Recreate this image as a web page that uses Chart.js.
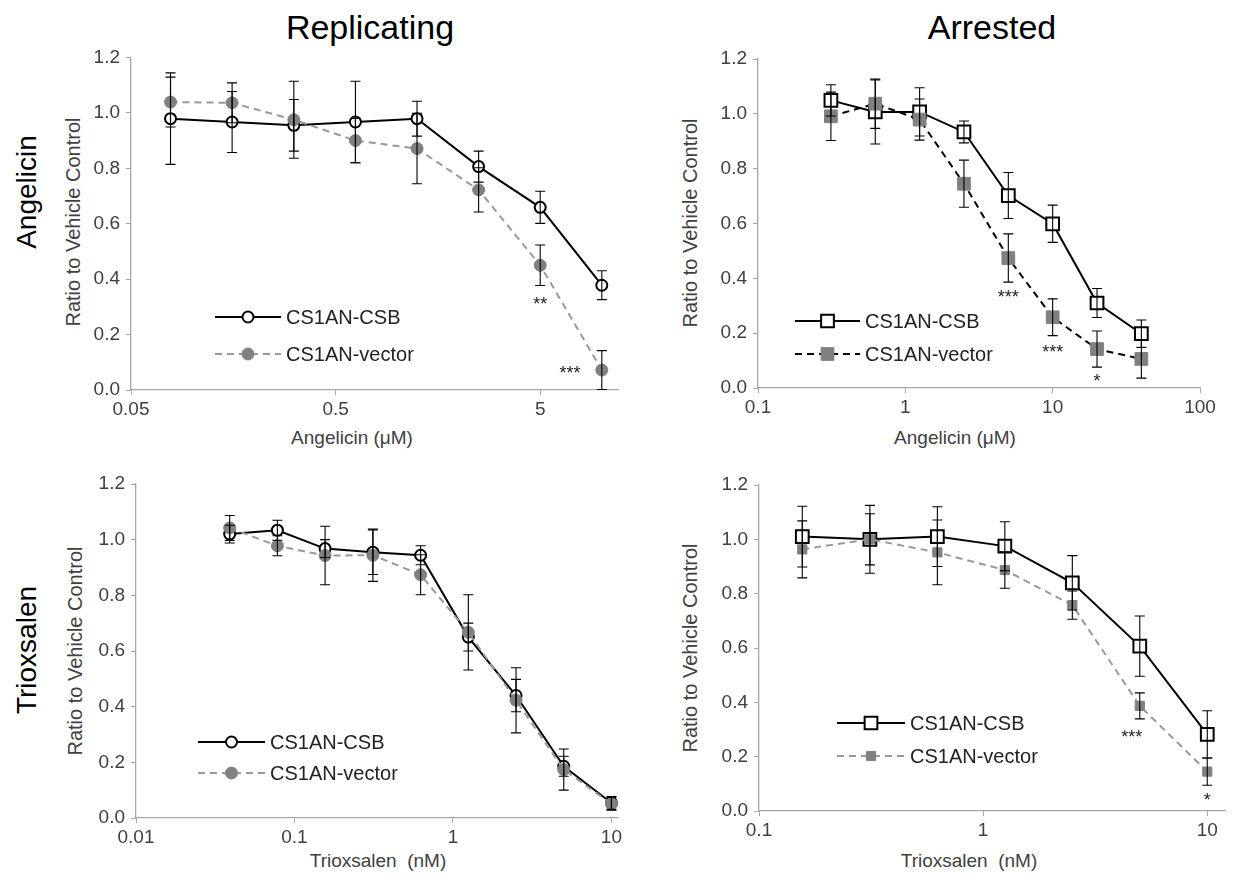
<!DOCTYPE html>
<html>
<head>
<meta charset="utf-8">
<script src="https://cdn.jsdelivr.net/npm/chart.js@4.4.1/dist/chart.umd.min.js"></script>
<style>
html,body{margin:0;padding:0;background:#fff;}
body{width:1250px;height:884px;position:relative;overflow:hidden;font-family:"Liberation Sans",Arial,sans-serif;}
.txt{position:absolute;white-space:nowrap;transform:translate(-50%,-50%);line-height:1;}
.rot{transform:translate(-50%,-50%) rotate(-90deg);}
.box{position:absolute;}
canvas{display:block;}
</style>
</head>
<body>
<div class="txt" style="left:370px;top:27px;font-size:34px;color:#000">Replicating</div>
<div class="txt" style="left:992px;top:27px;font-size:34px;color:#000">Arrested</div>
<div class="txt rot" style="left:27px;top:192px;font-size:28px;color:#000">Angelicin</div>
<div class="txt rot" style="left:27px;top:650px;font-size:28px;color:#000">Trioxsalen</div>

<div class="txt rot" style="left:73px;top:222px;font-size:20px;color:#404040">Ratio to Vehicle Control</div>
<div class="txt rot" style="left:690px;top:223px;font-size:20px;color:#404040">Ratio to Vehicle Control</div>
<div class="txt rot" style="left:75px;top:651px;font-size:20px;color:#404040">Ratio to Vehicle Control</div>
<div class="txt rot" style="left:690px;top:648px;font-size:20px;color:#404040">Ratio to Vehicle Control</div>

<div class="txt" style="left:352px;top:437px;font-size:19px;color:#404040">Angelicin (μM)</div>
<div class="txt" style="left:955px;top:437px;font-size:19px;color:#404040">Angelicin (μM)</div>
<div class="txt" style="left:378px;top:860px;font-size:19px;color:#404040">Trioxsalen&nbsp; (nM)</div>
<div class="txt" style="left:969px;top:860px;font-size:19px;color:#404040">Trioxsalen&nbsp; (nM)</div>

<div class="box" style="left:60px;top:40px"><canvas id="c1" width="570" height="385"></canvas></div>
<div class="box" style="left:670px;top:40px"><canvas id="c2" width="570" height="385"></canvas></div>
<div class="box" style="left:60px;top:465px"><canvas id="c3" width="570" height="385"></canvas></div>
<div class="box" style="left:670px;top:465px"><canvas id="c4" width="570" height="385"></canvas></div>

<script>
// ---------------- DATA ----------------
const seriesNames = ['CS1AN-CSB', 'CS1AN-vector'];
const yTicks = [0, 0.2, 0.4, 0.6, 0.8, 1.0, 1.2];

// Replicating – Angelicin (µM)
const repAngDose   = [0.078, 0.156, 0.3125, 0.625, 1.25, 2.5, 5, 10];
const repAngCSB    = [0.979, 0.967, 0.955, 0.967, 0.979, 0.806, 0.659, 0.378];
const repAngCSBErr = [0.165, 0.110, 0.093, 0.147, 0.063, 0.056, 0.058, 0.052];
const repAngVec    = [1.039, 1.036, 0.975, 0.900, 0.871, 0.722, 0.450, 0.072];
const repAngVecErr = [0.090, 0.072, 0.139, 0.080, 0.127, 0.080, 0.073, 0.070];
const repAngTicks  = [0.05, 0.5, 5];
const repAngTickLabels = ['0.05', '0.5', '5'];
const repAngStarX  = [5, 7.0];
const repAngStarY  = [0.322, 0.072];
const repAngStarText = ['**', '***'];

// Arrested – Angelicin (µM)
const arrAngDose   = [0.3125, 0.625, 1.25, 2.5, 5, 10, 20, 40];
const arrAngCSB    = [1.049, 1.007, 1.007, 0.934, 0.702, 0.599, 0.310, 0.198];
const arrAngCSBErr = [0.057, 0.117, 0.088, 0.040, 0.084, 0.068, 0.053, 0.050];
const arrAngVec    = [0.991, 1.037, 0.979, 0.745, 0.474, 0.258, 0.142, 0.106];
const arrAngVecErr = [0.088, 0.090, 0.075, 0.086, 0.088, 0.067, 0.066, 0.070];
const arrAngTicks  = [0.1, 1, 10, 100];
const arrAngTickLabels = ['0.1', '1', '10', '100'];
const arrAngStarX  = [5, 10, 20];
const arrAngStarY  = [0.344, 0.142, 0.036];
const arrAngStarText = ['***', '***', '*'];

// Replicating – Trioxsalen (nM)
const repTriDose   = [0.039, 0.078, 0.156, 0.3125, 0.625, 1.25, 2.5, 5, 10];
const repTriCSB    = [1.020, 1.034, 0.968, 0.955, 0.944, 0.650, 0.440, 0.186, 0.054];
const repTriCSBErr = [0.032, 0.036, 0.032, 0.080, 0.034, 0.050, 0.058, 0.036, 0.023];
const repTriVec    = [1.042, 0.978, 0.943, 0.944, 0.874, 0.667, 0.423, 0.174, 0.051];
const repTriVecErr = [0.045, 0.036, 0.105, 0.094, 0.072, 0.135, 0.117, 0.074, 0.023];
const repTriTicks  = [0.01, 0.1, 1, 10];
const repTriTickLabels = ['0.01', '0.1', '1', '10'];

// Arrested – Trioxsalen (nM)
const arrTriDose   = [0.156, 0.3125, 0.625, 1.25, 2.5, 5, 10];
const arrTriCSB    = [1.010, 1.000, 1.010, 0.975, 0.840, 0.607, 0.282];
const arrTriCSBErr = [0.112, 0.125, 0.110, 0.090, 0.100, 0.111, 0.087];
const arrTriVec    = [0.963, 1.000, 0.952, 0.887, 0.758, 0.387, 0.145];
const arrTriVecErr = [0.105, 0.094, 0.119, 0.067, 0.052, 0.048, 0.050];
const arrTriTicks  = [0.1, 1, 10];
const arrTriTickLabels = ['0.1', '1', '10'];
const arrTriStarX  = [4.6, 10];
const arrTriStarY  = [0.283, 0.050];
const arrTriStarText = ['***', '*'];

// ---------------- STYLE / RENDER ----------------
const FONT = '"Liberation Sans", Arial, sans-serif';
const AXIS = '#a6a6a6';
const TICKTXT = '#404040';
const GRAY = '#808080';

const decoPlugin = {
  id: 'deco',
  afterDatasetsDraw(chart, args, P) {
    const ctx = chart.ctx, xs = chart.scales.x, ys = chart.scales.y;
    ctx.save();
    // error bars
    ctx.strokeStyle = '#000'; ctx.lineWidth = 1.1; ctx.setLineDash([]);
    chart.data.datasets.forEach(ds => {
      ds.data.forEach((pt, i) => {
        const e = ds.errors[i];
        const px = xs.getPixelForValue(pt.x);
        const t = ys.getPixelForValue(pt.y + e), b = ys.getPixelForValue(Math.max(0, pt.y - e));
        ctx.beginPath();
        ctx.moveTo(px, t); ctx.lineTo(px, b);
        ctx.moveTo(px - 5, t); ctx.lineTo(px + 5, t);
        if (pt.y - e > 0) { ctx.moveTo(px - 5, b); ctx.lineTo(px + 5, b); }
        ctx.stroke();
      });
    });
    // significance stars
    ctx.fillStyle = '#222'; ctx.font = '18px ' + FONT; ctx.textAlign = 'center'; ctx.textBaseline = 'alphabetic';
    (P.starText || []).forEach((s, i) => {
      const px = xs.getPixelForValue(P.starX[i]), py = ys.getPixelForValue(P.starY[i]);
      ctx.fillText(s, px, py + 9);
    });
    // legend
    const L = P.legend;
    chart.data.datasets.slice().sort((a, b) => a.legendIdx - b.legendIdx).forEach((ds, k) => {
      const y = (k === 0 ? L.y1 : L.y2) - P.top;
      const x1 = L.x1 - P.left, x2 = L.x2 - P.left;
      ctx.save();
      ctx.strokeStyle = ds.borderColor; ctx.lineWidth = ds.borderWidth; ctx.setLineDash(ds.borderDash || []);
      ctx.beginPath(); ctx.moveTo(x1, y); ctx.lineTo(x2, y); ctx.stroke();
      ctx.setLineDash([]);
      ctx.fillStyle = ds.pointBackgroundColor; ctx.strokeStyle = ds.pointBorderColor; ctx.lineWidth = ds.pointBorderWidth;
      Chart.helpers.drawPoint(ctx, {pointStyle: ds.pointStyle, radius: ds.pointRadius, borderWidth: ds.pointBorderWidth, rotation: 0}, (x1 + x2) / 2, y);
      ctx.restore();
      ctx.fillStyle = '#222'; ctx.font = '20px ' + FONT; ctx.textAlign = 'left'; ctx.textBaseline = 'middle';
      ctx.fillText(ds.label, L.textX - P.left, y + 1);
    });
    ctx.restore();
  }
};

function mkPanel(id, P) {
  const ds = P.series.map((s, k) => ({
    label: seriesNames[k],
    legendIdx: k,
    data: P.dose.map((x, i) => ({x: x, y: s.y[i]})),
    errors: s.err,
    borderColor: s.line, borderWidth: 2, borderDash: s.dash || [],
    pointStyle: s.style, pointRadius: s.r, pointHoverRadius: s.r,
    pointBackgroundColor: s.fill, pointBorderColor: s.stroke, pointBorderWidth: s.bw,
    tension: 0, fill: false, order: k === 0 ? 1 : 0
  }));
  new Chart(document.getElementById(id), {
    type: 'line',
    data: {datasets: ds},
    options: {
      responsive: false, animation: false, events: [],
      layout: {padding: {left: 0, top: P.padTop, right: P.padRight, bottom: 0}},
      plugins: {legend: {display: false}, tooltip: {enabled: false}, deco: P},
      scales: {
        x: {
          type: 'logarithmic', min: P.xMin, max: P.xMax,
          afterBuildTicks: s => { s.ticks = P.xTicks.map(v => ({value: v})); },
          afterFit: s => { s.height = P.xAxisH; },
          ticks: {autoSkip: false, maxRotation: 0, minRotation: 0, padding: 3, color: TICKTXT,
                  font: {family: FONT, size: 19}, callback: (v, i) => P.xTickLabels[i]},
          grid: {drawOnChartArea: false, drawTicks: true, tickLength: 5, color: AXIS},
          border: {color: AXIS, width: 1.3}
        },
        y: {
          min: 0, max: 1.2,
          afterBuildTicks: s => { s.ticks = yTicks.map(v => ({value: v})); },
          afterFit: s => { s.width = P.yAxisW; },
          ticks: {padding: 6, color: TICKTXT, font: {family: FONT, size: 19}, callback: v => v.toFixed(1)},
          grid: {drawOnChartArea: false, drawTicks: true, tickLength: 5, color: AXIS},
          border: {color: AXIS, width: 1.3}
        }
      }
    },
    plugins: [decoPlugin]
  });
}

const csbCircle = {line: '#000', style: 'circle', r: 5.5, fill: '#fff', stroke: '#000', bw: 2};
const vecCircle = {line: '#999', dash: [7, 5], style: 'circle', r: 6, fill: GRAY, stroke: GRAY, bw: 1};
const csbSquare = {line: '#000', style: 'rect', r: 9, fill: '#fff', stroke: '#000', bw: 2};

mkPanel('c1', {
  left: 60, top: 40, padTop: 15, padRight: 12, yAxisW: 71, xAxisH: 35,
  xMin: 0.05, xMax: 12, xTicks: repAngTicks, xTickLabels: repAngTickLabels,
  dose: repAngDose,
  series: [Object.assign({y: repAngCSB, err: repAngCSBErr}, csbCircle),
           Object.assign({y: repAngVec, err: repAngVecErr}, vecCircle)],
  starX: repAngStarX, starY: repAngStarY, starText: repAngStarText,
  legend: {x1: 215, x2: 281, textX: 286, y1: 317, y2: 354}
});

mkPanel('c2', {
  left: 670, top: 40, padTop: 19, padRight: 40, yAxisW: 88, xAxisH: 37,
  xMin: 0.1, xMax: 100, xTicks: arrAngTicks, xTickLabels: arrAngTickLabels,
  dose: arrAngDose,
  series: [Object.assign({y: arrAngCSB, err: arrAngCSBErr}, csbSquare),
           {y: arrAngVec, err: arrAngVecErr, line: '#000', dash: [7, 5], style: 'rect', r: 9, fill: GRAY, stroke: GRAY, bw: 1}],
  starX: arrAngStarX, starY: arrAngStarY, starText: arrAngStarText,
  legend: {x1: 795, x2: 860, textX: 865, y1: 321, y2: 354}
});

mkPanel('c3', {
  left: 60, top: 465, padTop: 19, padRight: 12, yAxisW: 76, xAxisH: 32,
  xMin: 0.01, xMax: 11, xTicks: repTriTicks, xTickLabels: repTriTickLabels,
  dose: repTriDose,
  series: [Object.assign({y: repTriCSB, err: repTriCSBErr}, csbCircle),
           Object.assign({y: repTriVec, err: repTriVecErr}, vecCircle)],
  starX: [], starY: [], starText: [],
  legend: {x1: 198, x2: 265, textX: 270, y1: 742, y2: 773}
});

mkPanel('c4', {
  left: 670, top: 465, padTop: 20, padRight: 15, yAxisW: 89, xAxisH: 39,
  xMin: 0.1, xMax: 12, xTicks: arrTriTicks, xTickLabels: arrTriTickLabels,
  dose: arrTriDose,
  series: [Object.assign({y: arrTriCSB, err: arrTriCSBErr}, csbSquare),
           {y: arrTriVec, err: arrTriVecErr, line: '#999', dash: [7, 5], style: 'rect', r: 6.5, fill: GRAY, stroke: GRAY, bw: 1}],
  starX: arrTriStarX, starY: arrTriStarY, starText: arrTriStarText,
  legend: {x1: 837, x2: 905, textX: 910, y1: 723, y2: 756}
});
</script>
</body>
</html>
